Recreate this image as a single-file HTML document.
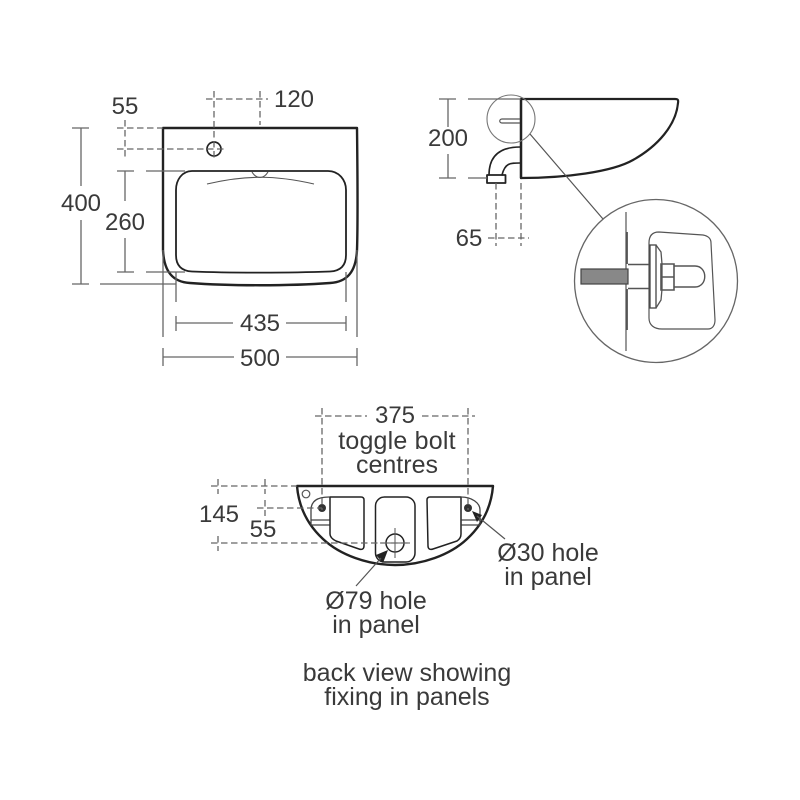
<!DOCTYPE html>
<html><head><meta charset="utf-8">
<style>
html,body{margin:0;padding:0;background:#fff}
svg{display:block;filter:blur(0.35px)}
text{font-family:"Liberation Sans",sans-serif;font-size:24px;fill:#3a3a3a;text-anchor:middle}
text.w{font-size:25px}
.d{stroke:#666;stroke-width:1.3;fill:none}
.da{stroke:#666;stroke-width:1.3;fill:none;stroke-dasharray:6.500 3.500}
.k{stroke:#222;fill:none;stroke-linecap:round;stroke-linejoin:round}
.g{stroke:#555;fill:none}
</style></head><body>
<svg width="800" height="800" viewBox="0 0 800 800" xmlns="http://www.w3.org/2000/svg">
<rect width="800" height="800" fill="#fff"/>

<!-- Front view -->
<path class="k" stroke-width="2.400" d="M163 128H357C357.500 170 358 220 357 250C356 272 347 282 330 283C290 286 230 286 190 283C173 282 164 272 163 250C163 220 163 170 163 128Z"/>
<path class="k" stroke-width="1.800" d="M192 171H328C339 171 346 180 346 190V255C346 266 340 271 330 271.500C290 273 230 273 192 271.500C182 271 176 266 176 255V190C176 180 182 171 192 171Z"/>
<path class="g" stroke-width="1.100" d="M207 184C245 175 275 175 314 184"/>
<path class="g" stroke-width="1.100" d="M252 172C255 177 258 177.500 260 177.500C262 177.500 265 177 268 172"/>
<circle class="k" cx="214" cy="149" r="7" stroke-width="1.700"/>

<path class="da" d="M206 99H268M214 91V160M260 91V125"/>
<path class="da" d="M117 128H163M117 149H226M125 120V157"/>
<path class="d" d="M72 128H89M72 284H89M81 128V186M81 220V284M100 284H176"/>
<path class="d" d="M117 171H134M117 272H134M125 171V201M125 238V272M146 171H185M146 272H185"/>
<path class="d" d="M176 272V302M346 272V302M176 316V331M346 316V331M176 323H233M286 323H346"/>
<path class="d" d="M163 250V337M357 250V337M163 348V366M357 348V366M163 357H234M286 357H357"/>

<text x="125" y="114">55</text>
<text x="294" y="107">120</text>
<text x="81" y="211">400</text>
<text x="125" y="230">260</text>
<text x="260" y="331">435</text>
<text x="260" y="366">500</text>

<!-- Side view -->
<path class="k" stroke-width="2.200" d="M521 99H675C678 99 678.500 100 678 103C676 125 658 146 633 160C612 172 565 178 521 178Z"/>
<path class="k" stroke-width="2.400" d="M521 99V178"/>
<circle class="g" stroke-width="1.100" cx="511" cy="119" r="24" style="stroke:#777"/>
<path class="g" stroke-width="1.200" d="M520 119H502C499 119 499 123 502 123H520"/>
<path class="k" stroke-width="1.600" d="M520 147C505 147 489 152 489 175M520 163C510 163 505 163 502 175"/>
<path class="k" stroke-width="1.800" d="M487 175H505.500V183H487Z"/>
<path class="d" d="M439 99H456M439 178H456M448 99V127M448 154V178M468 99H521M468 178H487"/>
<path class="da" d="M496 183V246M521 183V246M488 238H529"/>
<path class="g" stroke-width="1.200" d="M530 134L603 219"/>
<text x="448" y="146">200</text>
<text x="469" y="246">65</text>

<!-- Detail circle -->
<circle class="g" stroke-width="1.300" cx="656" cy="281" r="81.500" style="stroke:#666"/>
<path class="g" stroke-width="1.200" d="M626 212V351"/>
<path class="g" stroke-width="1.800" d="M627 232V264M627 289V330"/>
<rect x="581" y="269" width="47" height="15" fill="#888" stroke="#444" stroke-width="1.200"/>
<path class="g" stroke-width="1.400" d="M628 264.500H650M628 288.500H650"/>
<path class="g" stroke-width="1.200" d="M659 232L703 235C708 236 711 238 711 243L715 320C715 326 712 329 708 329H662C654 329 649 325 649 318V243C649 236 652 232 659 232Z"/>
<rect x="650" y="245" width="6" height="63" fill="#fff" stroke="#444" stroke-width="1.300"/>
<path class="g" stroke-width="1.300" d="M656 245L661 252L662 264V289L661 300L656 308"/>
<path class="g" stroke-width="1.600" d="M661 264H674V290H661ZM661 277H674"/>
<path class="g" stroke-width="1.400" d="M674 266H695C708 266 708 287 695 287H674"/>

<!-- Back view -->
<path class="k" stroke-width="2.400" d="M297 486H493C491 510 480 527 467 539C450 555 422 565 395 565C368 565 340 555 323 539C310 527 299 510 297 486Z"/>
<circle class="g" stroke-width="1.200" cx="306" cy="494" r="3.800"/>
<path class="k" stroke-width="1.300" d="M329 497C315 497 311 503 311 510V525H329M311 520H329" style="stroke:#444"/>
<path class="k" stroke-width="1.500" d="M330 497H361C363 497 364 498 364 500V546C364 549 362 550 359 549L336 541C332 539 330 537 330 534Z"/>
<rect class="k" x="375.500" y="497" width="39.500" height="65" rx="9" stroke-width="1.500"/>
<path class="k" stroke-width="1.500" d="M461 497H430C428 497 427 498 427 500L428 546C428 549 430 550 433 549L457 541C460 539 461 537 461 534Z"/>
<path class="k" stroke-width="1.300" d="M461 497C472 497 480 503 480 510V525H462M480 520H462" style="stroke:#444"/>
<circle cx="322" cy="508" r="4" fill="#333"/>
<circle cx="468" cy="508" r="4" fill="#333"/>
<circle class="k" cx="395" cy="543" r="9" stroke-width="1.500"/>
<path class="g" stroke-width="1" d="M395 528V558M380 543H410"/>
<path class="da" d="M315 416H367M422 416H475M322 408V510M468 408V510"/>
<path class="da" d="M211 486H297M211 543H410M218 479V494M218 536V551M265 479V494M257 508H322M265 500V516"/>
<path fill="#222" d="M388 550L383 563L376 555Z"/>
<path class="g" stroke-width="1.200" d="M381 558L356 586"/>
<path fill="#222" d="M472 511L482 515L477 522Z"/>
<path class="g" stroke-width="1.200" d="M477 516L505 539"/>

<text x="395" y="423">375</text>
<text class="w" x="397" y="449" style="letter-spacing:.2px">toggle bolt</text>
<text class="w" x="397" y="473">centres</text>
<text x="219" y="522">145</text>
<text x="263" y="537">55</text>
<text class="w" x="548" y="561">Ø30 hole</text>
<text class="w" x="548" y="585">in panel</text>
<text class="w" x="376" y="609">Ø79 hole</text>
<text class="w" x="376" y="633">in panel</text>
<text class="w" x="407" y="681">back view showing</text>
<text class="w" x="407" y="705">fixing in panels</text>
</svg>
</body></html>
